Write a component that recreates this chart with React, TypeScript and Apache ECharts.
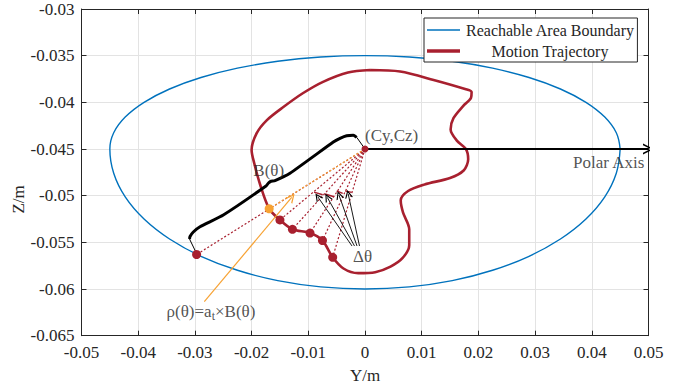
import React, { useEffect, useRef } from 'react';
import * as echarts from 'echarts';

// ---- axes ----
const xMin = -0.05, xMax = 0.05, xStep = 0.01;
const yMin = -0.065, yMax = -0.03, yStep = 0.005;

// ---- data ----
const center: [number, number] = [0, -0.045];

const boundary: [number, number][] = [
  [0.045, -0.045], [0.04432, -0.04326], [0.04229, -0.04158], [0.03897, -0.04], [0.03447, -0.03857],
  [0.02893, -0.03734], [0.0225, -0.03634], [0.01539, -0.0356], [0.00781, -0.03515], [0, -0.035],
  [-0.00781, -0.03515], [-0.01539, -0.0356], [-0.0225, -0.03634], [-0.02893, -0.03734], [-0.03447, -0.03857],
  [-0.03897, -0.04], [-0.04229, -0.04158], [-0.04432, -0.04326], [-0.045, -0.045],
  [-0.04432, -0.0476], [-0.04229, -0.05013], [-0.03897, -0.0525], [-0.03447, -0.05464], [-0.02893, -0.05649],
  [-0.0225, -0.05799], [-0.01539, -0.0591], [-0.00781, -0.05977], [0, -0.06],
  [0.00781, -0.05977], [0.01539, -0.0591], [0.0225, -0.05799], [0.02893, -0.05649], [0.03447, -0.05464],
  [0.03897, -0.0525], [0.04229, -0.05013], [0.04432, -0.0476], [0.045, -0.045],
];

const trajectory: [number, number][] = [
  [0.0009, -0.03654], [-0.003, -0.0368], [-0.0074, -0.0378], [-0.0109, -0.039], [-0.0144, -0.0405],
  [-0.0173, -0.0419], [-0.0191, -0.0433], [-0.02, -0.0451], [-0.0195, -0.0466], [-0.0185, -0.0488],
  [-0.0169, -0.0514], [-0.015, -0.0526], [-0.0128, -0.0536], [-0.0097, -0.054], [-0.0075, -0.0548],
  [-0.0057, -0.0566], [-0.0038, -0.0578], [-0.0012, -0.0583], [0.0018, -0.0582], [0.0045, -0.0576],
  [0.0066, -0.0567], [0.0078, -0.0553], [0.0078, -0.0536], [0.0067, -0.0518], [0.0063, -0.0505],
  [0.0076, -0.0495], [0.0105, -0.0488], [0.015, -0.0481], [0.0174, -0.0473], [0.0182, -0.0461],
  [0.0178, -0.045], [0.0162, -0.0441], [0.0151, -0.0429], [0.0156, -0.0417], [0.0173, -0.0404],
  [0.0187, -0.0395], [0.0188, -0.0389], [0.0178, -0.0386], [0.0121, -0.0376], [0.0062, -0.0367],
  [0.0009, -0.03654],
];

const orangePoint: [number, number] = [-0.0169, -0.0514];
const samplePoints: [number, number][] = [
  [-0.015, -0.0526], [-0.0128, -0.0536], [-0.0097, -0.054], [-0.0075, -0.0548], [-0.0057, -0.0566],
];
const boundaryPoint: [number, number] = [-0.0297, -0.0563];

const bracketThick: [number, number][] = [
  [-0.00146, -0.04375], [-0.00206, -0.04353], [-0.00323, -0.04358], [-0.00441, -0.04386],
  [-0.00559, -0.04425], [-0.01323, -0.0476], [-0.01587, -0.04838], [-0.01667, -0.04848],
  [-0.01702, -0.04864], [-0.01746, -0.04896], [-0.02499, -0.05207], [-0.0291, -0.05333],
  [-0.03028, -0.05389], [-0.03086, -0.05438], [-0.03095, -0.05464],
];
const bracketThin: [number, number][][] = [
  [[0, -0.045], [-0.00146, -0.04375]],
  [[-0.03095, -0.05464], [-0.0297, -0.0562]],
];

const deltaArcs: [number, number][][] = [
  [[-0.00899, -0.04961], [-0.00746, -0.0499]],
  [[-0.00705, -0.04982], [-0.00547, -0.05011]],
  [[-0.00499, -0.0495], [-0.00393, -0.04975]],
  [[-0.00347, -0.0495], [-0.00235, -0.04964]],
];
const deltaArrows: [number, number][][] = [
  [[-0.00229, -0.05539], [-0.00834, -0.05011]],
  [[-0.00185, -0.05539], [-0.00665, -0.05018]],
  [[-0.00141, -0.05539], [-0.00459, -0.04993]],
  [[-0.00097, -0.05539], [-0.00296, -0.04982]],
];
const rhoArrow: [number, number][] = [[-0.02834, -0.06136], [-0.01293, -0.05018]];
const polarAxis: [number, number][] = [[0, -0.045], [0.05, -0.045]];

const FONT = 'Liberation Serif, Times New Roman, serif';
const TXT = '#262626';
const BLUE = '#0072BD';
const RED = '#A8202F';
const ORANGE = '#F7A233';
const ARROW = 'path://M5,0 L10,10 L8.4,10 L5,3 L1.6,10 L0,10 Z';
const FS = 17;

const fmt = (v: number) => {
  const r = Math.round(v * 10000) / 10000;
  return r === 0 ? '0' : String(r);
};

export default function App() {
  const ref = useRef<HTMLDivElement>(null);
  useEffect(() => {
    document.body.style.margin = '0';
    if (!ref.current) return;
    const chart = echarts.init(ref.current, undefined, { renderer: 'svg' });
    const axisLine = { show: true, onZero: false, lineStyle: { color: TXT, width: 1 } };
    const tick = { show: true, inside: true, length: 5, lineStyle: { color: TXT } };
    chart.setOption({
      animation: false,
      backgroundColor: '#fff',
      grid: {
        left: 81.5, right: 43.5, top: 9, bottom: 51.3,
        containLabel: false, outerBoundsMode: 'none',
      },
      legend: {
        data: [
          { name: 'Reachable Area Boundary', icon: 'path://M0,0 H33 V1.4 H0 Z' },
          { name: 'Motion Trajectory', icon: 'path://M0,0 H33 V3.6 H0 Z' },
        ],
        orient: 'vertical',
        left: 424,
        top: 18,
        padding: [4, 3, 3, 3],
        itemGap: 5,
        itemWidth: 33,
        itemHeight: 14,
        symbolKeepAspect: true,
        backgroundColor: '#fff',
        borderColor: TXT,
        borderWidth: 1,
        selectedMode: false,
        formatter: (name: string) => `{c|${name}}`,
        textStyle: {
          fontFamily: FONT, fontSize: 16, color: TXT,
          rich: { c: { width: 170, align: 'center', fontFamily: FONT, fontSize: 16, color: TXT } },
        },
      },
      xAxis: [
        {
          type: 'value', min: xMin, max: xMax, interval: xStep,
          name: 'Y/m', nameLocation: 'middle', nameGap: 31, nameMoveOverlap: false,
          nameTextStyle: { fontFamily: FONT, fontSize: FS, color: TXT },
          axisLine, axisTick: tick,
          axisLabel: { fontFamily: FONT, fontSize: FS, color: TXT, margin: 8, formatter: fmt },
          splitLine: { show: true, lineStyle: { color: '#E3E3E3', width: 1 } },
        },
        {
          type: 'value', position: 'top', min: xMin, max: xMax, interval: xStep,
          axisLine, axisTick: tick, axisLabel: { show: false }, splitLine: { show: false },
        },
      ],
      yAxis: [
        {
          type: 'value', min: yMin, max: yMax, interval: yStep,
          name: 'Z/m', nameLocation: 'middle', nameGap: 55, nameRotate: 90, nameMoveOverlap: false,
          nameTextStyle: { fontFamily: FONT, fontSize: FS, color: TXT, padding: [0, 54, 0, 0] },
          axisLine, axisTick: tick,
          axisLabel: { fontFamily: FONT, fontSize: FS, color: TXT, margin: 7, formatter: fmt },
          splitLine: { show: true, lineStyle: { color: '#E3E3E3', width: 1 } },
        },
        {
          type: 'value', position: 'right', min: yMin, max: yMax, interval: yStep,
          axisLine, axisTick: tick, axisLabel: { show: false }, splitLine: { show: false },
        },
      ],
      series: [
        {
          name: 'Reachable Area Boundary', type: 'line', data: boundary, smooth: 0.4,
          symbol: 'none', lineStyle: { color: BLUE, width: 1.4 }, itemStyle: { color: BLUE }, z: 2,
        },
        {
          name: 'Motion Trajectory', type: 'line', data: trajectory, smooth: 0.3,
          symbol: 'none', lineStyle: { color: RED, width: 2.6 }, itemStyle: { color: RED }, z: 3,
        },
        {
          name: 'rays', type: 'lines', coordinateSystem: 'cartesian2d', silent: true, z: 4,
          lineStyle: { color: RED, width: 1.2, type: [2, 2], opacity: 1 },
          data: [...samplePoints, boundaryPoint].map((p) => ({ coords: [center, p] })),
        },
        {
          name: 'rayOrange', type: 'lines', coordinateSystem: 'cartesian2d', silent: true, z: 4,
          lineStyle: { color: ORANGE, width: 1.2, type: [2, 2], opacity: 1 },
          data: [{ coords: [center, orangePoint] }],
        },
        {
          name: 'bracket', type: 'line', data: bracketThick, smooth: 0.15, symbol: 'none',
          lineStyle: { color: '#000', width: 3 }, z: 5,
        },
        {
          name: 'bracketEnds', type: 'lines', coordinateSystem: 'cartesian2d', silent: true, z: 5,
          lineStyle: { color: '#000', width: 1, opacity: 1 },
          data: bracketThin.map((c) => ({ coords: c })),
        },
        {
          name: 'deltaArcs', type: 'lines', coordinateSystem: 'cartesian2d', silent: true, z: 5,
          lineStyle: { color: RED, width: 1.4, opacity: 1 },
          data: deltaArcs.map((c) => ({ coords: c })),
        },
        {
          name: 'deltaArrows', type: 'lines', coordinateSystem: 'cartesian2d', silent: true, z: 5,
          symbol: ['none', ARROW], symbolSize: [6, 8],
          lineStyle: { color: '#000', width: 0.9, opacity: 1 },
          data: deltaArrows.map((c) => ({ coords: c })),
        },
        {
          name: 'rhoArrow', type: 'lines', coordinateSystem: 'cartesian2d', silent: true, z: 5,
          symbol: ['none', ARROW], symbolSize: [8, 9],
          lineStyle: { color: ORANGE, width: 1.2, opacity: 1 },
          data: [{ coords: rhoArrow }],
        },
        {
          name: 'polarAxis', type: 'lines', coordinateSystem: 'cartesian2d', silent: true, z: 5,
          symbol: ['none', ARROW], symbolSize: [9, 11],
          lineStyle: { color: '#000', width: 2, opacity: 1 },
          data: [{ coords: polarAxis }],
        },
        {
          name: 'samples', type: 'scatter', data: samplePoints, symbolSize: 9,
          itemStyle: { color: RED, opacity: 1 }, z: 6,
        },
        {
          name: 'boundaryPoint', type: 'scatter', data: [boundaryPoint], symbolSize: 9,
          itemStyle: { color: RED, opacity: 1 }, z: 6,
        },
        {
          name: 'orangePoint', type: 'scatter', data: [orangePoint], symbolSize: 9,
          itemStyle: { color: ORANGE, opacity: 1 }, z: 6,
        },
        {
          name: 'centerPoint', type: 'scatter', data: [center], symbolSize: 7,
          itemStyle: { color: RED, opacity: 1 }, z: 6,
        },
        {
          name: 'labels', type: 'scatter', symbolSize: 0, silent: true, z: 7,
          label: {
            show: true, position: 'right', distance: 0,
            fontFamily: FONT, fontSize: FS, color: TXT,
            rich: {
              n: { fontFamily: FONT, fontSize: FS, color: TXT, lineHeight: 20 },
              s: { fontFamily: FONT, fontSize: 12, color: TXT, lineHeight: 20, padding: [9, 0, 0, 0] },
            },
          },
          data: [
            { value: [0, -0.0436], label: { formatter: '(Cy,Cz)' } },
            { value: [-0.0197, -0.04725], label: { formatter: 'B(θ)' } },
            { value: [0.0367, -0.04647], label: { formatter: 'Polar Axis' } },
            { value: [-0.0021, -0.0565], label: { formatter: 'Δθ' } },
            { value: [-0.035, -0.06236], label: { formatter: '{n|ρ(θ)=a}{s|t}{n|×B(θ)}' } },
          ],
        },
      ],
    });
    return () => chart.dispose();
  }, []);
  return <div ref={ref} style={{ width: 692, height: 387 }} />;
}
